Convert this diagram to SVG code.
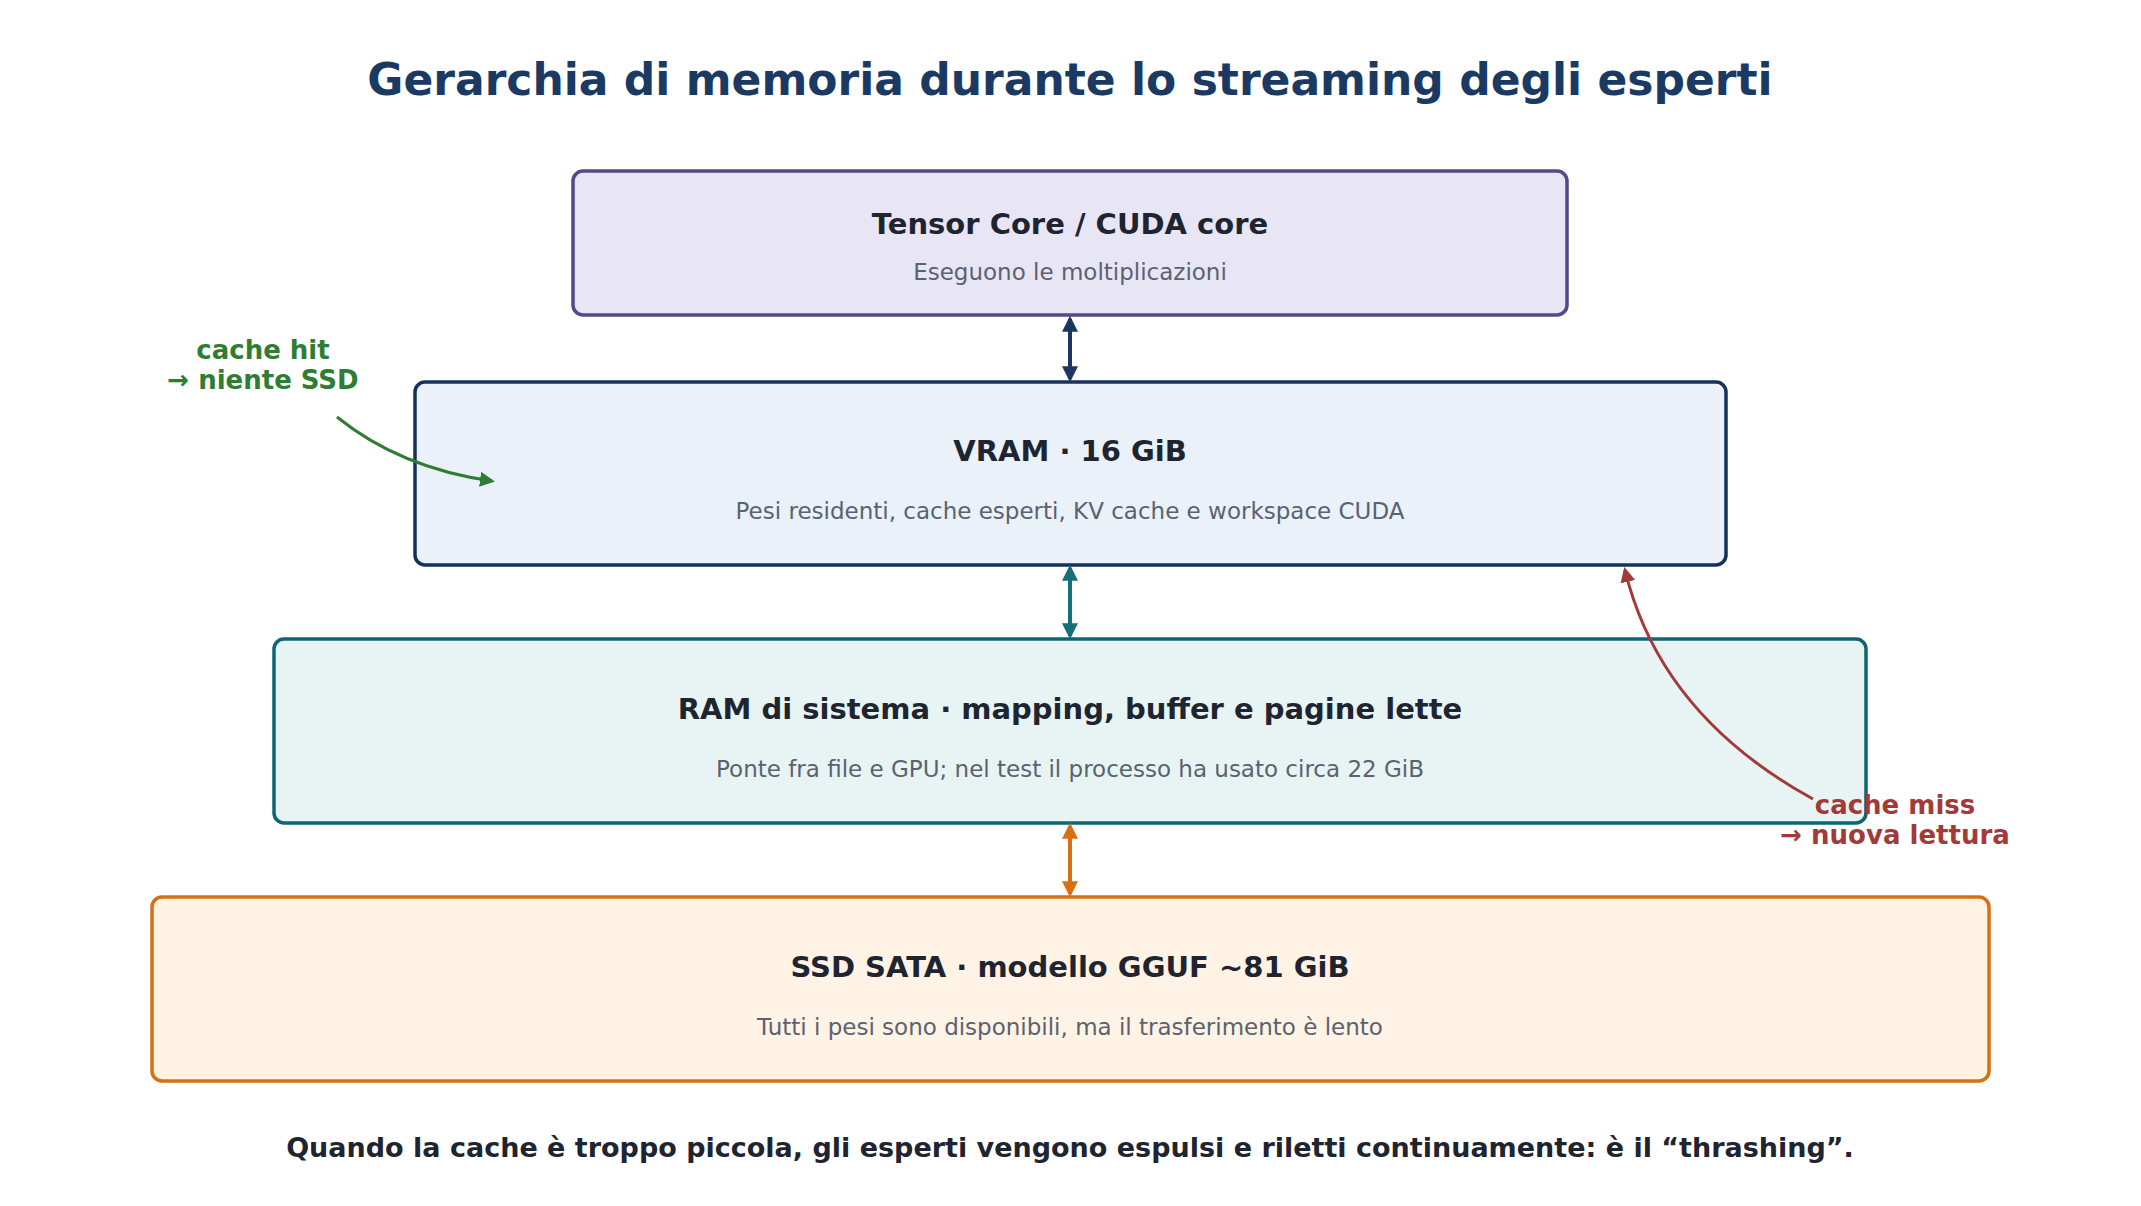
<svg xmlns="http://www.w3.org/2000/svg" width="2141" height="1206" viewBox="0 0 2141 1206">
<style>
text{font-family:"DejaVu Sans","Noto Sans",sans-serif;text-anchor:middle}
.t{font-size:29px;font-weight:bold;fill:#1e2430}
.s{font-size:23px;fill:#5a6270}
.box{stroke-width:3.5}
</style>
<defs>
<marker id="mN" viewBox="0 0 10 10" refX="8" refY="5" markerWidth="4" markerHeight="4" orient="auto-start-reverse"><path d="M0,0L10,5L0,10z" fill="#1c3660"/></marker>
<marker id="mT" viewBox="0 0 10 10" refX="8" refY="5" markerWidth="4" markerHeight="4" orient="auto-start-reverse"><path d="M0,0L10,5L0,10z" fill="#14707a"/></marker>
<marker id="mO" viewBox="0 0 10 10" refX="8" refY="5" markerWidth="4" markerHeight="4" orient="auto-start-reverse"><path d="M0,0L10,5L0,10z" fill="#d97010"/></marker>
<marker id="mG" viewBox="0 0 10 10" refX="8" refY="5" markerWidth="5" markerHeight="5" orient="auto"><path d="M0,0L10,5L0,10z" fill="#2e7d32"/></marker>
<marker id="mR" viewBox="0 0 10 10" refX="8" refY="5" markerWidth="5" markerHeight="5" orient="auto"><path d="M0,0L10,5L0,10z" fill="#a33a3a"/></marker>
</defs>
<rect width="2141" height="1206" fill="#fff"/>
<text x="1070" y="95" style="font-size:44px;font-weight:bold;fill:#1a3a64">Gerarchia di memoria durante lo streaming degli esperti</text>
<g id="tensor"><rect class="box" x="573" y="171" width="994" height="144" rx="10" fill="#e8e6f5" stroke="#524a8a"/>
<text class="t" x="1070" y="234">Tensor Core / CUDA core</text><text class="s" x="1070" y="280">Eseguono le moltiplicazioni</text></g>
<g id="vram"><rect class="box" x="415" y="382" width="1311" height="183" rx="10" fill="#eaf1f8" stroke="#14325a"/>
<text class="t" x="1070" y="461">VRAM · 16 GiB</text><text class="s" x="1070" y="519">Pesi residenti, cache esperti, KV cache e workspace CUDA</text></g>
<g id="ram"><rect class="box" x="274" y="639" width="1592" height="184" rx="10" fill="#e8f4f3" stroke="#0e6674"/>
<text class="t" x="1070" y="719">RAM di sistema · mapping, buffer e pagine lette</text><text class="s" x="1070" y="777">Ponte fra file e GPU; nel test il processo ha usato circa 22 GiB</text></g>
<g id="ssd"><rect class="box" x="152" y="897" width="1837" height="184" rx="10" fill="#fff3e6" stroke="#d97010"/>
<text class="t" x="1070" y="977">SSD SATA · modello GGUF ~81 GiB</text><text class="s" x="1070" y="1035">Tutti i pesi sono disponibili, ma il trasferimento è lento</text></g>
<g id="connectors" fill="none" stroke-width="4">
<line x1="1070" y1="319" x2="1070" y2="379" stroke="#1c3660" marker-start="url(#mN)" marker-end="url(#mN)"/>
<line x1="1070" y1="568" x2="1070" y2="636" stroke="#14707a" marker-start="url(#mT)" marker-end="url(#mT)"/>
<line x1="1070" y1="826" x2="1070" y2="894" stroke="#d97010" marker-start="url(#mO)" marker-end="url(#mO)"/>
<path d="M337 417 Q400 468 492 481" stroke="#2e7d32" stroke-width="3" marker-end="url(#mG)"/>
<path d="M1813 799 Q1660 715 1625 570" stroke="#a33a3a" stroke-width="3" marker-end="url(#mR)"/>
</g>
<g id="labels" style="font-size:26px;font-weight:bold">
<text x="263" y="359" fill="#2e7d32">cache hit</text><text x="263" y="389" fill="#2e7d32">→ niente SSD</text>
<text x="1895" y="814" fill="#a33a3a">cache miss</text><text x="1895" y="844" fill="#a33a3a">→ nuova lettura</text>
</g>
<text x="1070" y="1157" style="font-size:27px;font-weight:bold;fill:#1e2430">Quando la cache è troppo piccola, gli esperti vengono espulsi e riletti continuamente: è il “thrashing”.</text>
</svg>
